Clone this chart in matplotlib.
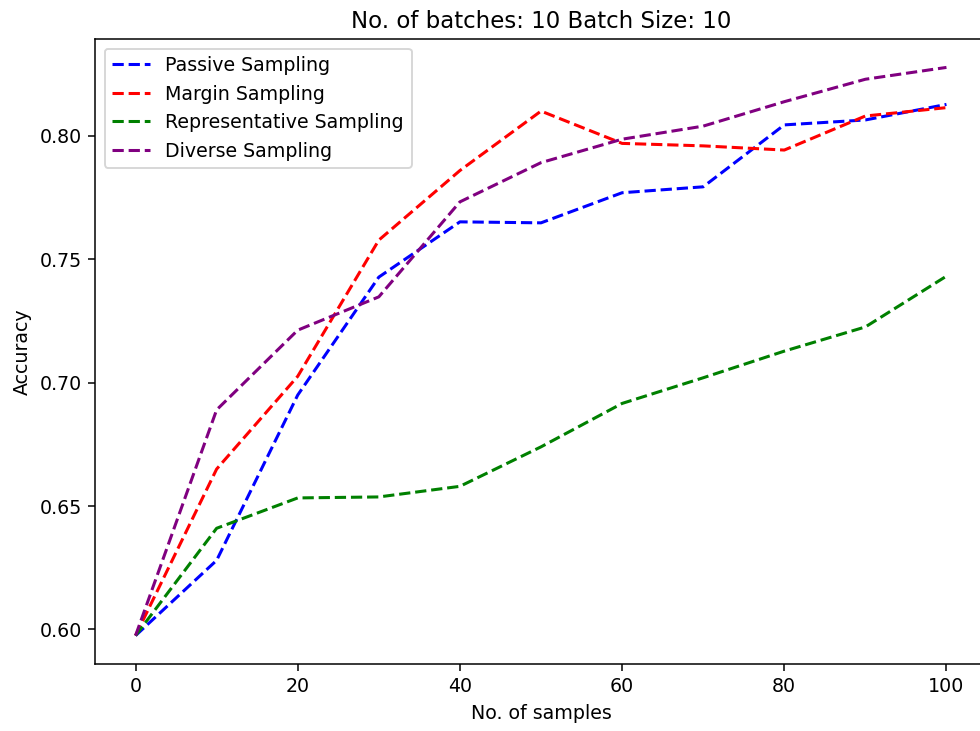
import numpy as np
import matplotlib
matplotlib.use('Agg')
import matplotlib.pyplot as plt

DPI = 137
W, H = 980, 731

samples = [0, 10, 20, 30, 40, 50, 60, 70, 80, 90, 100]

passive = [0.5975, 0.628, 0.695, 0.7428, 0.7652, 0.7648, 0.777, 0.7794, 0.8045, 0.8065, 0.8128]
margin = [0.5975, 0.665, 0.7026, 0.7578, 0.786, 0.8101, 0.797, 0.796, 0.7943, 0.8081, 0.8115]
representative = [0.5975, 0.641, 0.6533, 0.6537, 0.658, 0.674, 0.6916, 0.702, 0.7128, 0.7226, 0.7432]
diverse = [0.5975, 0.689, 0.7213, 0.7348, 0.7733, 0.7892, 0.7987, 0.804, 0.8139, 0.823, 0.8278]

series = [
    ('Passive Sampling', passive, 'blue'),
    ('Margin Sampling', margin, 'red'),
    ('Representative Sampling', representative, 'green'),
    ('Diverse Sampling', diverse, 'purple'),
]

fig = plt.figure(figsize=(W / DPI, H / DPI), dpi=DPI)
# axes box (right edge runs slightly past the image)
ax = fig.add_axes([95 / W, 1 - 664 / H, 892 / W, 625 / H])

for label, vals, color in series:
    ax.plot(samples, vals, linestyle='--', color=color, label=label, linewidth=1.6)

ax.set_title('No. of batches: 10 Batch Size: 10')
ax.set_xlabel('No. of samples')
ax.set_ylabel('Accuracy')
ax.set_xticks([0, 20, 40, 60, 80, 100])
ax.set_yticks([0.60, 0.65, 0.70, 0.75, 0.80])
ax.legend(loc='upper left')

plt.savefig('out.png', dpi=DPI)
